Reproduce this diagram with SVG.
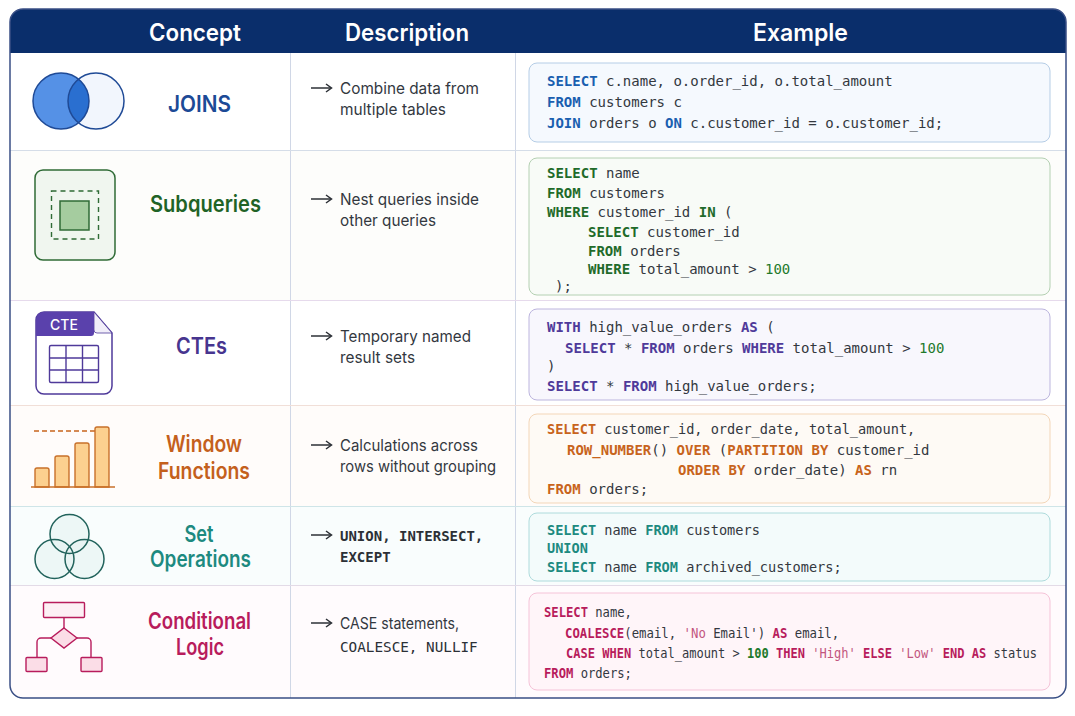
<svg xmlns="http://www.w3.org/2000/svg" width="1075" height="716" viewBox="0 0 1075 716">
<style>
text{font-family:"Inter","Liberation Sans",sans-serif}
.hd{font-size:24px;font-weight:600;fill:#fff;text-anchor:middle}
.lb{font-size:22.500px;font-weight:600;text-anchor:middle}
.ds{font-size:16px;fill:#33383f}
.mn{font-family:"DejaVu Sans Mono","Liberation Mono",monospace;font-size:14px;fill:#33383f}
.sm{font-size:13.600px}
.dm{font-family:"DejaVu Sans Mono","Liberation Mono",monospace;font-size:14px;fill:#2c3036}
.dv{fill:none;stroke:#d0d7e6;stroke-width:1}
.k{font-weight:700}
.kb{fill:#1a5fb0}.kg{fill:#1f6b2a}.kp{fill:#4f3a9a}.ko{fill:#c8641c}.kt{fill:#1d8a80}.kr{fill:#b81c5c}
.n{fill:#1f7a2c}
.s{fill:#c2557f}
</style>
<defs>
<marker id="ah" markerWidth="10" markerHeight="10" refX="8" refY="5" orient="auto" markerUnits="userSpaceOnUse"><path d="M3 1L8.500 5L3 9" fill="none" stroke="#2c3036" stroke-width="1.500"/></marker>
<clipPath id="cl"><circle cx="96" cy="101" r="28"/></clipPath>
<clipPath id="card"><rect x="10" y="9" width="1056" height="689" rx="13"/></clipPath>
</defs>
<rect width="1075" height="716" fill="#fff"/>
<g id="table-bg" clip-path="url(#card)">
<rect x="10" y="150" width="1056" height="150" fill="#fdfdfb"/>
<rect x="10" y="405" width="1056" height="101" fill="#fffcfa"/>
<rect x="10" y="506" width="1056" height="79" fill="#f9fdfd"/>
<rect x="10" y="585" width="1056" height="113" fill="#fffbfd"/>
<rect x="10" y="9" width="1056" height="44" fill="#0a2e6b"/>
<path class="dv" d="M290.500 53V698M515.500 53V698"/>
<path d="M10 150.500H1066" stroke="#d5dde8" fill="none"/>
<path d="M10 300.500H1066" stroke="#e6daec" fill="none"/>
<path d="M10 405.500H1066" stroke="#f1dfd8" fill="none"/>
<path d="M10 506.500H1066" stroke="#cfe5e8" fill="none"/>
<path d="M10 585.500H1066" stroke="#e3dbe7" fill="none"/>
</g>
<rect id="table-border" x="10" y="9" width="1056" height="689" rx="13" fill="none" stroke="#3a4f85" stroke-width="1.500"/>
<g id="header">
<text class="hd" x="195" y="41" textLength="92" lengthAdjust="spacingAndGlyphs">Concept</text>
<text class="hd" x="407" y="41" textLength="124" lengthAdjust="spacingAndGlyphs">Description</text>
<text class="hd" x="800.500" y="41" textLength="95" lengthAdjust="spacingAndGlyphs">Example</text>
</g>
<g id="connectors" fill="none" stroke="#2c3036" stroke-width="1.500">
<path d="M311 88H331" marker-end="url(#ah)"/>
<path d="M311 199H331" marker-end="url(#ah)"/>
<path d="M311 336H331" marker-end="url(#ah)"/>
<path d="M311 445H331" marker-end="url(#ah)"/>
<path d="M311 535H331" marker-end="url(#ah)"/>
<path d="M311 623H331" marker-end="url(#ah)"/>
</g>

<g id="joins">
<circle cx="96" cy="101" r="28" fill="#f2f6fd"/>
<circle cx="61" cy="101" r="28" fill="#5591e6"/>
<circle cx="61" cy="101" r="28" fill="#2a6fd0" clip-path="url(#cl)"/>
<circle cx="61" cy="101" r="28" fill="none" stroke="#1f4a96" stroke-width="1.500"/>
<circle cx="96" cy="101" r="28" fill="none" stroke="#1f4a96" stroke-width="1.500"/>
<text class="lb" x="199.500" y="112" fill="#1c4a96" textLength="63" lengthAdjust="spacingAndGlyphs">JOINS</text>
<text class="ds" x="340" y="94" textLength="139" lengthAdjust="spacingAndGlyphs">Combine data from</text>
<text class="ds" x="340" y="115" textLength="106" lengthAdjust="spacingAndGlyphs">multiple tables</text>
<rect x="529" y="63" width="521" height="79" rx="8" fill="#f5f9fe" stroke="#b5cde6"/>
<text class="mn" x="547" y="86"><tspan class="k kb">SELECT</tspan> c.name, o.order_id, o.total_amount</text>
<text class="mn" x="547" y="107"><tspan class="k kb">FROM</tspan> customers c</text>
<text class="mn" x="547" y="128"><tspan class="k kb">JOIN</tspan> orders o <tspan class="k kb">ON</tspan> c.customer_id = o.customer_id;</text>
</g>

<g id="subqueries">
<rect x="35" y="170" width="80" height="90" rx="8" fill="#f0f6ef" stroke="#2f6b36" stroke-width="1.500"/>
<rect x="51.500" y="191" width="47" height="48" fill="none" stroke="#2f6b36" stroke-width="1.400" stroke-dasharray="5 4"/>
<rect x="60" y="201" width="29" height="29" fill="#a5cc9f" stroke="#2f6b36" stroke-width="1.500"/>
<text class="lb" x="205.500" y="212" fill="#1f6326" textLength="111" lengthAdjust="spacingAndGlyphs">Subqueries</text>
<text class="ds" x="340" y="205" textLength="139" lengthAdjust="spacingAndGlyphs">Nest queries inside</text>
<text class="ds" x="340" y="226" textLength="96" lengthAdjust="spacingAndGlyphs">other queries</text>
<rect x="529" y="158" width="521" height="137" rx="8" fill="#f8fbf7" stroke="#b4d0b2"/>
<text class="mn" x="547" y="178"><tspan class="k kg">SELECT</tspan> name</text>
<text class="mn" x="547" y="198"><tspan class="k kg">FROM</tspan> customers</text>
<text class="mn" x="547" y="217"><tspan class="k kg">WHERE</tspan> customer_id <tspan class="k kg">IN</tspan> (</text>
<text class="mn" x="588" y="237"><tspan class="k kg">SELECT</tspan> customer_id</text>
<text class="mn" x="588" y="256"><tspan class="k kg">FROM</tspan> orders</text>
<text class="mn" x="588" y="274"><tspan class="k kg">WHERE</tspan> total_amount &gt; <tspan class="n">100</tspan></text>
<text class="mn" x="555" y="291">);</text>
</g>

<g id="ctes">
<path d="M44 312H94L112 333V386a8 8 0 0 1-8 8H44a8 8 0 0 1-8-8V320a8 8 0 0 1 8-8Z" fill="#fff" stroke="#4f3a9a" stroke-width="1.500"/>
<path d="M94 312L112 333H97a3 3 0 0 1-3-3Z" fill="#f1eef9" stroke="#4f3a9a" stroke-width=".800"/>
<path d="M44 312H94V333a3 3 0 0 1-3 3H36V320a8 8 0 0 1 8-8Z" fill="#5a41ac"/>
<text x="64" y="330" text-anchor="middle" font-size="14" font-weight="500" fill="#fff">CTE</text>
<rect x="49.500" y="345.500" width="49" height="37" rx="1.500" fill="#fff" stroke="#4f3a9a" stroke-width="1.400"/>
<path d="M66 345.500V382.500M82.500 345.500V382.500M49.500 358H98.500M49.500 370H98.500" fill="none" stroke="#4f3a9a" stroke-width="1.400"/>
<text class="lb" x="201.500" y="354" fill="#47358f" textLength="51" lengthAdjust="spacingAndGlyphs">CTEs</text>
<text class="ds" x="340" y="342" textLength="131" lengthAdjust="spacingAndGlyphs">Temporary named</text>
<text class="ds" x="340" y="363" textLength="75" lengthAdjust="spacingAndGlyphs">result sets</text>
<rect x="529" y="309" width="521" height="91" rx="8" fill="#f8f7fd" stroke="#bcb5de"/>
<text class="mn" x="547" y="332"><tspan class="k kp">WITH</tspan> high_value_orders <tspan class="k kp">AS</tspan> (</text>
<text class="mn" x="565" y="353"><tspan class="k kp">SELECT</tspan> * <tspan class="k kp">FROM</tspan> orders <tspan class="k kp">WHERE</tspan> total_amount &gt; <tspan class="n">100</tspan></text>
<text class="mn" x="547" y="371">)</text>
<text class="mn" x="547" y="391"><tspan class="k kp">SELECT</tspan> * <tspan class="k kp">FROM</tspan> high_value_orders;</text>
</g>

<g id="window-functions">
<path d="M34 431H95" fill="none" stroke="#c8641c" stroke-width="1.300" stroke-dasharray="5 3"/>
<path d="M35 487V470a2 2 0 0 1 2-2H47a2 2 0 0 1 2 2V487ZM55 487V458a2 2 0 0 1 2-2H67a2 2 0 0 1 2 2V487ZM75 487V445a2 2 0 0 1 2-2H87a2 2 0 0 1 2 2V487ZM95 487V429a2 2 0 0 1 2-2H107a2 2 0 0 1 2 2V487Z" fill="#fcd08f" stroke="#c8702a" stroke-width="1.400"/>
<path d="M31 487H115" fill="none" stroke="#c8702a" stroke-width="1.500"/>
<text class="lb" x="204" y="452" fill="#c4601c" textLength="76" lengthAdjust="spacingAndGlyphs">Window</text>
<text class="lb" x="204" y="479" fill="#c4601c" textLength="92" lengthAdjust="spacingAndGlyphs">Functions</text>
<text class="ds" x="340" y="451" textLength="138" lengthAdjust="spacingAndGlyphs">Calculations across</text>
<text class="ds" x="340" y="472" textLength="156" lengthAdjust="spacingAndGlyphs">rows without grouping</text>
<rect x="529" y="414" width="521" height="89" rx="8" fill="#fefaf5" stroke="#f3d6b8"/>
<text class="mn sm" x="547" y="434"><tspan class="k ko">SELECT</tspan> customer_id, order_date, total_amount,</text>
<text class="mn" x="567" y="455"><tspan class="k ko">ROW_NUMBER</tspan>() <tspan class="k ko">OVER</tspan> (<tspan class="k ko">PARTITION BY</tspan> customer_id</text>
<text class="mn" x="678" y="475"><tspan class="k ko">ORDER BY</tspan> order_date) <tspan class="k ko">AS</tspan> rn</text>
<text class="mn" x="547" y="494"><tspan class="k ko">FROM</tspan> orders;</text>
</g>

<g id="set-operations">
<g fill="#e4f2f1" fill-opacity=".55">
<circle cx="69.500" cy="534" r="19.500"/>
<circle cx="54.500" cy="559" r="19.500"/>
<circle cx="84.500" cy="559" r="19.500"/>
</g>
<g fill="none" stroke="#22635c" stroke-width="1.500">
<circle cx="69.500" cy="534" r="19.500"/>
<circle cx="54.500" cy="559" r="19.500"/>
<circle cx="84.500" cy="559" r="19.500"/>
</g>
<text class="lb" x="199" y="542" fill="#1d8a80" textLength="29" lengthAdjust="spacingAndGlyphs">Set</text>
<text class="lb" x="200.500" y="567" fill="#1d8a80" textLength="101" lengthAdjust="spacingAndGlyphs">Operations</text>
<text class="dm k" x="340" y="541">UNION, INTERSECT,</text>
<text class="dm k" x="340" y="562">EXCEPT</text>
<rect x="529" y="513" width="521" height="68" rx="8" fill="#f3fbfb" stroke="#aedbdc"/>
<text class="mn sm" x="547" y="535"><tspan class="k kt">SELECT</tspan> name <tspan class="k kt">FROM</tspan> customers</text>
<text class="mn sm" x="547" y="553"><tspan class="k kt">UNION</tspan></text>
<text class="mn sm" x="547" y="572"><tspan class="k kt">SELECT</tspan> name <tspan class="k kt">FROM</tspan> archived_customers;</text>
</g>

<g id="conditional-logic">
<g fill="#fbdde7" stroke="#b81c5c" stroke-width="1.400">
<rect x="43.500" y="602.500" width="41" height="15" rx="1" fill="#fdf0f5"/>
<path d="M64 628L77 638L64 648L51 638Z"/>
<rect x="26" y="657.500" width="21" height="14" rx="1"/>
<rect x="81" y="657.500" width="21" height="14" rx="1"/>
<path d="M64 617.500V628M51 638H41a4 4 0 0 0-4 4V657.500M77 638H87a4 4 0 0 1 4 4V657.500" fill="none"/>
</g>
<text class="lb" x="199.500" y="629" fill="#b81c5c" textLength="103" lengthAdjust="spacingAndGlyphs">Conditional</text>
<text class="lb" x="200" y="655" fill="#b81c5c" textLength="48" lengthAdjust="spacingAndGlyphs">Logic</text>
<text class="ds" x="340" y="629" textLength="119" lengthAdjust="spacingAndGlyphs">CASE statements,</text>
<text class="dm" x="340" y="652" style="font-size:14.300px">COALESCE, NULLIF</text>
<rect x="529" y="593" width="521" height="97" rx="8" fill="#fff5f9" stroke="#f5c3d8"/>
<text class="mn" transform="translate(544 617) scale(.87 1)"><tspan class="k kr">SELECT</tspan> name,</text>
<text class="mn" transform="translate(565 638) scale(.88 1)"><tspan class="k kr">COALESCE</tspan>(email, <tspan class="s">'No</tspan> Email') <tspan class="k kr">AS</tspan> email,</text>
<text class="mn" transform="translate(566 658) scale(.86 1)"><tspan class="k kr">CASE WHEN</tspan> total_amount &gt; <tspan class="n k">100</tspan> <tspan class="k kr">THEN</tspan> <tspan class="s">'High'</tspan> <tspan class="k kr">ELSE</tspan> <tspan class="s">'Low'</tspan> <tspan class="k kr">END AS</tspan> status</text>
<text class="mn" transform="translate(544 678) scale(.87 1)"><tspan class="k kr">FROM</tspan> orders;</text>
</g>
</svg>
